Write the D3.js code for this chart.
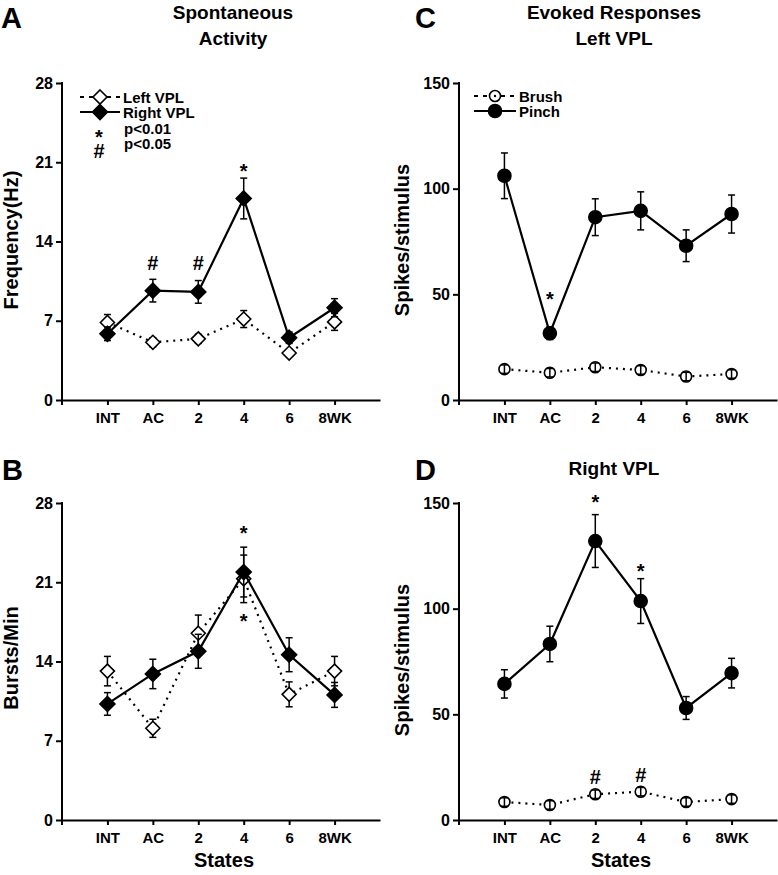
<!DOCTYPE html>
<html>
<head>
<meta charset="utf-8">
<script src="https://cdn.jsdelivr.net/npm/d3@7"></script>
<style>
  html, body { margin: 0; padding: 0; background: #fff; }
  svg text { font-family: "Liberation Sans", Arial, Helvetica, sans-serif; font-weight: bold; fill: #000; }
</style>
</head>
<body>
<svg id="chart" width="778" height="875"></svg>
<script>
// ---------- DATA ----------
const categories = ["INT", "AC", "2", "4", "6", "8WK"];

// Panel A: spontaneous frequency (Hz)
const freqLeft      = [6.85, 5.1, 5.4, 7.15, 4.15, 6.9];
const freqLeftErr   = [0.7, 0.4, 0.4, 0.75, 0.3, 0.75];
const freqRight     = [5.85, 9.66, 9.55, 17.8, 5.5, 8.15];
const freqRightErr  = [0.6, 1.0, 1.0, 1.8, 0.5, 0.8];

// Panel B: bursts/min
const burstLeft     = [13.15, 8.1, 16.5, 21.3, 11.1, 13.15];
const burstLeftErr  = [1.3, 0.8, 1.6, 2.1, 1.1, 1.3];
const burstRight    = [10.25, 12.9, 14.9, 21.9, 14.6, 11.05];
const burstRightErr = [1.0, 1.3, 1.5, 2.2, 1.5, 1.1];

// Panel C: evoked, left VPL (spikes/stimulus)
const leftBrush     = [14.6, 12.9, 15.5, 14.2, 11.1, 12.3];
const leftBrushErr  = [2, 2, 2, 2, 2, 2];
const leftPinch     = [106.1, 31.6, 86.5, 89.5, 73, 88];
const leftPinchErr  = [10.8, 3, 8.7, 9, 7.5, 9];

// Panel D: evoked, right VPL (spikes/stimulus)
const rightBrush    = [8.5, 7.1, 12.2, 13.4, 8.5, 9.9];
const rightBrushErr = [2, 2, 2, 2, 2, 2];
const rightPinch    = [64.4, 83.3, 132, 103.6, 53, 69.5];
const rightPinchErr = [6.7, 8.4, 12.5, 10.6, 5.4, 7];

// Tick labels
const freqTicks  = [0, 7, 14, 21, 28];
const spikeTicks = [0, 50, 100, 150];

// Significance marks: [category, value where the mark sits, symbol]
const marksA = [["AC", 12.1, "#"], ["2", 12.1, "#"], ["4", 20.55, "*"]];
const marksB = [["4", 25.7, "*"], ["4", 17.93, "*"]];
const marksC = [["AC", 49.7, "*"]];
const marksD = [["2", 152.4, "*"], ["4", 119.7, "*"], ["2", 20.3, "#"], ["4", 21.3, "#"]];

// ---------- DRAW ----------
const svg = d3.select("#chart");

function diamondPath(r) { return `M0,${-r}L${r},0L0,${r}L${-r},0Z`; }

function panel(opt) {
  const g = svg.append("g");
  const x = d3.scalePoint().domain(categories).range([opt.x0, opt.x1]).padding(1);
  const y = d3.scaleLinear().domain([0, opt.ymax]).range([opt.y0, opt.y1]);

  // y axis
  const ya = g.append("g").attr("transform", `translate(${opt.x0},0)`)
    .call(d3.axisLeft(y).tickValues(opt.ticks).tickSize(6).tickSizeOuter(0).tickPadding(3));
  ya.select(".domain").remove();
  ya.selectAll(".tick line").attr("stroke", "#000").attr("stroke-width", 2);
  ya.selectAll(".tick text").style("font-size", "16px");
  g.append("line").attr("x1", opt.x0).attr("x2", opt.x0)
    .attr("y1", opt.y1 - 1).attr("y2", opt.y0 + 5).attr("stroke", "#000").attr("stroke-width", 2);

  // x axis
  const xa = g.append("g").attr("transform", `translate(0,${opt.y0})`)
    .call(d3.axisBottom(x).tickSize(5).tickSizeOuter(0).tickPadding(7));
  xa.select(".domain").attr("stroke", "#000").attr("stroke-width", 2.2);
  xa.selectAll(".tick line").attr("stroke", "#000").attr("stroke-width", 2);
  xa.selectAll(".tick text").style("font-size", "15px");

  // series
  opt.series.forEach(s => {
    const pts = categories.map((c, i) => ({ c, v: s.values[i], e: s.err[i] }));
    const line = d3.line().x(d => x(d.c)).y(d => y(d.v));
    g.append("path").datum(pts).attr("d", line).attr("fill", "none")
      .attr("stroke", "#000").attr("stroke-width", 2.2)
      .attr("stroke-dasharray", s.dotted ? "2,5" : null);

    const drawErr = () => {
      const eg = g.append("g").attr("stroke", "#000").attr("stroke-width", 1.5);
      pts.forEach(d => {
        const cx = x(d.c), yt = y(d.v + d.e), yb = y(d.v - d.e);
        eg.append("line").attr("x1", cx).attr("x2", cx).attr("y1", yt).attr("y2", yb);
        eg.append("line").attr("x1", cx - 3.5).attr("x2", cx + 3.5).attr("y1", yt).attr("y2", yt);
        eg.append("line").attr("x1", cx - 3.5).attr("x2", cx + 3.5).attr("y1", yb).attr("y2", yb);
      });
    };
    const drawMarks = () => {
      pts.forEach(d => {
        const cx = x(d.c), cy = y(d.v);
        if (s.shape === "diamond") {
          g.append("path").attr("d", diamondPath(s.filled ? 7.5 : 7))
            .attr("transform", `translate(${cx},${cy})`)
            .attr("fill", s.filled ? "#000" : "#fff").attr("stroke", "#000").attr("stroke-width", 1.6);
        } else {
          g.append("circle").attr("cx", cx).attr("cy", cy).attr("r", s.filled ? 6.5 : 5.5)
            .attr("fill", s.filled ? "#000" : "#fff").attr("stroke", "#000").attr("stroke-width", 1.6);
        }
      });
    };
    if (s.errOnTop) { drawMarks(); drawErr(); } else { drawErr(); drawMarks(); }
  });

  // significance marks
  opt.marks.forEach(m => {
    const cy = y(m[1]);
    g.append("text").attr("x", x(m[0])).attr("y", cy + (m[2] === "*" ? 11 : 7))
      .attr("text-anchor", "middle").style("font-size", "20px").text(m[2]);
  });

  // y label
  g.append("text").attr("transform", `translate(${opt.ylabX},${opt.ylabY}) rotate(-90)`)
    .attr("text-anchor", "middle").style("font-size", "20px").text(opt.ylabel);

  // x label
  if (opt.xlabel) {
    g.append("text").attr("x", (opt.x0 + opt.x1) / 2 + 3).attr("y", opt.y0 + 47)
      .attr("text-anchor", "middle").style("font-size", "20px").text(opt.xlabel);
  }

  // title
  opt.title.forEach((t, i) => {
    g.append("text").attr("x", opt.titleX).attr("y", opt.titleY + i * 26)
      .attr("text-anchor", "middle").style("font-size", "19px").text(t);
  });

  // panel letter
  g.append("text").attr("x", opt.letterX).attr("y", opt.letterY)
    .style("font-size", "29px").text(opt.letter);
  return g;
}

panel({
  x0: 62, x1: 380, y0: 400, y1: 83, ymax: 28, ticks: freqTicks,
  series: [
    { values: freqLeft, err: freqLeftErr, dotted: true, shape: "diamond", filled: false },
    { values: freqRight, err: freqRightErr, dotted: false, shape: "diamond", filled: true }
  ],
  marks: marksA, ylabel: "Frequency(Hz)", ylabX: 18, ylabY: 240,
  title: ["Spontaneous", "Activity"], titleX: 233, titleY: 19,
  letter: "A", letterX: 1, letterY: 28
});

panel({
  x0: 62, x1: 380, y0: 820, y1: 503, ymax: 28, ticks: freqTicks,
  series: [
    { values: burstLeft, err: burstLeftErr, dotted: true, shape: "diamond", filled: false },
    { values: burstRight, err: burstRightErr, dotted: false, shape: "diamond", filled: true }
  ],
  marks: marksB, ylabel: "Bursts/Min", ylabX: 18, ylabY: 658, xlabel: "States",
  title: [], titleX: 0, titleY: 0,
  letter: "B", letterX: 2, letterY: 480
});

panel({
  x0: 459, x1: 777, y0: 400, y1: 83, ymax: 150, ticks: spikeTicks,
  series: [
    { values: leftBrush, err: leftBrushErr, dotted: true, shape: "circle", filled: false, errOnTop: true },
    { values: leftPinch, err: leftPinchErr, dotted: false, shape: "circle", filled: true }
  ],
  marks: marksC, ylabel: "Spikes/stimulus", ylabX: 409, ylabY: 240,
  title: ["Evoked Responses", "Left VPL"], titleX: 614, titleY: 19,
  letter: "C", letterX: 415, letterY: 28
});

panel({
  x0: 459, x1: 777, y0: 820, y1: 503, ymax: 150, ticks: spikeTicks,
  series: [
    { values: rightBrush, err: rightBrushErr, dotted: true, shape: "circle", filled: false, errOnTop: true },
    { values: rightPinch, err: rightPinchErr, dotted: false, shape: "circle", filled: true }
  ],
  marks: marksD, ylabel: "Spikes/stimulus", ylabX: 409, ylabY: 660, xlabel: "States",
  title: ["Right VPL"], titleX: 614, titleY: 475,
  letter: "D", letterX: 415, letterY: 480
});

// ---------- LEGENDS ----------
function legendRow(g, x0, x1, yy, dotted, shape, filled, label) {
  g.append("line").attr("x1", x0).attr("x2", x1).attr("y1", yy).attr("y2", yy)
    .attr("stroke", "#000").attr("stroke-width", 2.2).attr("stroke-dasharray", dotted ? "4,5" : null);
  const cx = (x0 + x1) / 2;
  if (shape === "diamond") {
    g.append("path").attr("d", diamondPath(filled ? 7.5 : 7)).attr("transform", `translate(${cx},${yy})`)
      .attr("fill", filled ? "#000" : "#fff").attr("stroke", "#000").attr("stroke-width", 1.6);
  } else {
    g.append("circle").attr("cx", cx).attr("cy", yy).attr("r", filled ? 6.5 : 5.5)
      .attr("fill", filled ? "#000" : "#fff").attr("stroke", "#000").attr("stroke-width", 1.6);
    if (!filled) g.append("circle").attr("cx", cx).attr("cy", yy).attr("r", 1.2).attr("fill", "#000");
  }
  g.append("text").attr("x", x1 + 3).attr("y", yy + 5.5).style("font-size", "15px").text(label);
}

const legA = svg.append("g");
legendRow(legA, 80, 120, 97, true, "diamond", false, "Left VPL");
legendRow(legA, 80, 120, 112, false, "diamond", true, "Right VPL");
legA.append("text").attr("x", 99).attr("y", 144).attr("text-anchor", "middle").style("font-size", "20px").text("*");
legA.append("text").attr("x", 124).attr("y", 134).style("font-size", "15px").text("p<0.01");
legA.append("text").attr("x", 99).attr("y", 158).attr("text-anchor", "middle").style("font-size", "20px").text("#");
legA.append("text").attr("x", 124).attr("y", 149).style("font-size", "15px").text("p<0.05");

const legC = svg.append("g");
legendRow(legC, 474, 516, 96, true, "circle", false, "Brush");
legendRow(legC, 474, 516, 111, false, "circle", true, "Pinch");
</script>
</body>
</html>
